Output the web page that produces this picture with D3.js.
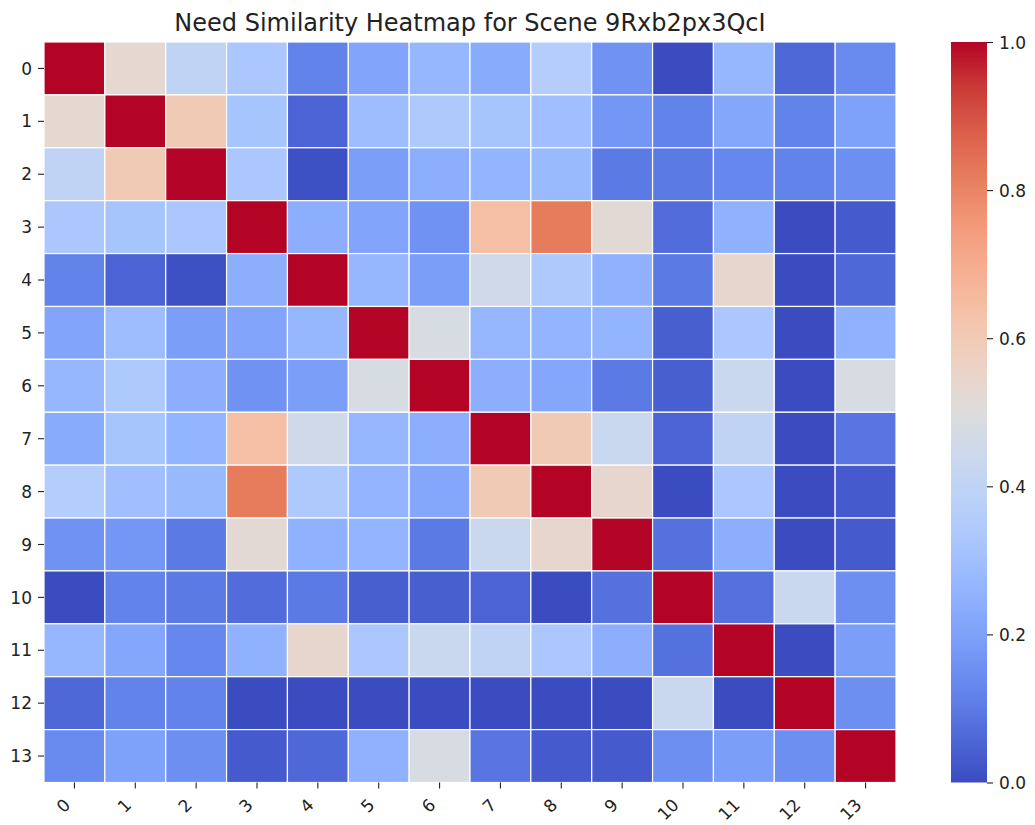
<!DOCTYPE html>
<html lang="en">
<head>
    <meta charset="UTF-8">
    <title>Need Similarity Heatmap</title>
    <script src="https://cdnjs.cloudflare.com/ajax/libs/d3/7.8.5/d3.min.js"></script>
    <style>
        body {
            margin: 0;
            padding: 0;
            background: #fff;
        }
        svg text {
            font-family: "DejaVu Sans", sans-serif;
            fill: #222;
        }
    </style>
</head>
<body>
    <div id="chart"></div>

    <script>
        // scene labels (same on both axes)
        const labels = ['0', '1', '2', '3', '4', '5', '6', '7', '8', '9', '10', '11', '12', '13'];

        // similarity matrix (row = y label, column = x label)
        const similarity = [
            [1.00, 0.53, 0.40, 0.33, 0.12, 0.21, 0.27, 0.23, 0.36, 0.16, 0.00, 0.27, 0.06, 0.14],
            [0.53, 1.00, 0.60, 0.32, 0.05, 0.29, 0.34, 0.32, 0.30, 0.17, 0.12, 0.22, 0.12, 0.20],
            [0.40, 0.60, 1.00, 0.33, 0.01, 0.19, 0.24, 0.26, 0.28, 0.10, 0.10, 0.13, 0.12, 0.15],
            [0.33, 0.32, 0.33, 1.00, 0.24, 0.21, 0.16, 0.64, 0.82, 0.52, 0.07, 0.25, 0.00, 0.03],
            [0.12, 0.05, 0.01, 0.24, 1.00, 0.27, 0.19, 0.45, 0.34, 0.25, 0.10, 0.54, 0.00, 0.06],
            [0.21, 0.29, 0.19, 0.21, 0.27, 1.00, 0.48, 0.27, 0.26, 0.26, 0.04, 0.33, 0.00, 0.25],
            [0.27, 0.34, 0.24, 0.16, 0.19, 0.48, 1.00, 0.24, 0.22, 0.10, 0.04, 0.43, 0.00, 0.48],
            [0.23, 0.32, 0.26, 0.64, 0.45, 0.27, 0.24, 1.00, 0.60, 0.43, 0.05, 0.40, 0.00, 0.09],
            [0.36, 0.30, 0.28, 0.82, 0.34, 0.26, 0.22, 0.60, 1.00, 0.54, 0.00, 0.33, 0.00, 0.03],
            [0.16, 0.17, 0.10, 0.52, 0.25, 0.26, 0.10, 0.43, 0.54, 1.00, 0.08, 0.24, 0.00, 0.03],
            [0.00, 0.12, 0.10, 0.07, 0.10, 0.04, 0.04, 0.05, 0.00, 0.08, 1.00, 0.08, 0.43, 0.15],
            [0.27, 0.22, 0.13, 0.25, 0.54, 0.33, 0.43, 0.40, 0.33, 0.24, 0.08, 1.00, 0.00, 0.19],
            [0.06, 0.12, 0.12, 0.00, 0.00, 0.00, 0.00, 0.00, 0.00, 0.00, 0.43, 0.00, 1.00, 0.15],
            [0.14, 0.20, 0.15, 0.03, 0.06, 0.25, 0.48, 0.09, 0.03, 0.03, 0.15, 0.19, 0.15, 1.00]
        ];

        // colorbar ticks
        const cbarTicks = [0, 0.2, 0.4, 0.6, 0.8, 1.0];

        const title = 'Need Similarity Heatmap for Scene 9Rxb2px3QcI';

        // matplotlib "coolwarm" approximated with a few control points
        const coolwarmStops = [0, 0.0625, 0.125, 0.1875, 0.25, 0.3125, 0.375, 0.4375, 0.5,
                               0.5625, 0.625, 0.6875, 0.75, 0.8125, 0.875, 0.9375, 1];
        const coolwarmColors = ['#3b4cc0', '#4f69d9', '#6485ec', '#7a9df8', '#8fb1fe', '#a5c3fe',
                                '#b9d0f9', '#cbd8ee', '#dddcdc', '#ecd3c5', '#f5c4ac', '#f7b093',
                                '#f49a7b', '#e8805f', '#dd604c', '#ca3b37', '#b40426'];

        const width = 1035;
        const height = 825;
        const plot = { left: 44, right: 896, top: 42, bottom: 782.5 };
        const cbar = { left: 951, right: 987 };

        const color = d3.scaleLinear()
            .domain(coolwarmStops)
            .range(coolwarmColors)
            .interpolate(d3.interpolateRgb)
            .clamp(true);

        const svg = d3.select('#chart').append('svg')
            .attr('width', width)
            .attr('height', height);

        const x = d3.scaleBand()
            .domain(labels)
            .range([plot.left, plot.right]);

        const y = d3.scaleBand()
            .domain(labels)
            .range([plot.top, plot.bottom]);

        // flatten matrix into cells
        const cells = [];
        similarity.forEach((row, i) => {
            row.forEach((v, j) => cells.push({ row: labels[i], col: labels[j], value: v }));
        });

        svg.append('g')
            .selectAll('rect')
            .data(cells)
            .join('rect')
            .attr('x', d => x(d.col))
            .attr('y', d => y(d.row))
            .attr('width', x.bandwidth())
            .attr('height', y.bandwidth())
            .attr('fill', d => color(d.value))
            .attr('stroke', '#fff')
            .attr('stroke-width', 1.2);

        // y axis
        const yAxis = svg.append('g')
            .attr('transform', `translate(${plot.left},0)`)
            .call(d3.axisLeft(y).tickSize(6).tickPadding(6));
        yAxis.select('.domain').remove();
        yAxis.selectAll('line').attr('stroke', '#222').attr('stroke-width', 1.1);
        yAxis.selectAll('text')
            .attr('font-size', 17)
            .attr('font-family', '"DejaVu Sans", sans-serif')
            .attr('fill', '#222')
            .attr('dy', '0.36em');

        // x axis with 45 degree labels
        const xAxis = svg.append('g')
            .attr('transform', `translate(0,${plot.bottom})`)
            .call(d3.axisBottom(x).tickSize(6).tickPadding(6));
        xAxis.select('.domain').remove();
        xAxis.selectAll('line').attr('stroke', '#222').attr('stroke-width', 1.1);
        xAxis.selectAll('text')
            .attr('font-size', 17)
            .attr('font-family', '"DejaVu Sans", sans-serif')
            .attr('fill', '#222')
            .attr('y', 0)
            .attr('dy', 0)
            .attr('text-anchor', 'end')
            .attr('transform', 'translate(-3,23.5) rotate(-45)');

        // title
        svg.append('text')
            .attr('x', (plot.left + plot.right) / 2)
            .attr('y', 31)
            .attr('text-anchor', 'middle')
            .attr('font-size', 24)
            .text(title);

        // colorbar
        const cScale = d3.scaleLinear()
            .domain([0, 1])
            .range([plot.bottom, plot.top]);

        const defs = svg.append('defs');
        const grad = defs.append('linearGradient')
            .attr('id', 'cbarGrad')
            .attr('x1', 0).attr('y1', 1)
            .attr('x2', 0).attr('y2', 0);
        grad.selectAll('stop')
            .data(d3.range(0, 1.0001, 0.02))
            .join('stop')
            .attr('offset', d => d)
            .attr('stop-color', d => color(d));

        svg.append('rect')
            .attr('x', cbar.left)
            .attr('y', cScale(1))
            .attr('width', cbar.right - cbar.left)
            .attr('height', cScale(0) - cScale(1))
            .attr('fill', 'url(#cbarGrad)');

        const cAxis = svg.append('g')
            .attr('transform', `translate(${cbar.right},0)`)
            .call(d3.axisRight(cScale).tickValues(cbarTicks).tickFormat(d3.format('.1f')).tickSize(6).tickPadding(6));
        cAxis.select('.domain').remove();
        cAxis.selectAll('line').attr('stroke', '#222').attr('stroke-width', 1.1);
        cAxis.selectAll('text')
            .attr('font-size', 17)
            .attr('font-family', '"DejaVu Sans", sans-serif')
            .attr('fill', '#222')
            .attr('dy', '0.36em');
    </script>
</body>
</html>
